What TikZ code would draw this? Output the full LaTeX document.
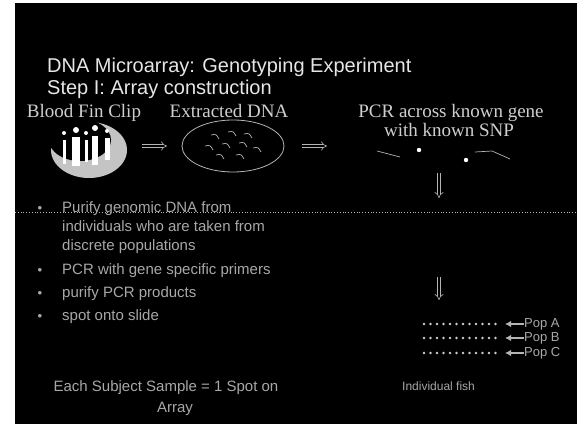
\documentclass[tikz,border=0pt]{standalone}
\usepackage{fontspec}
\setmainfont{Liberation Serif}
\setsansfont{Liberation Sans}
\usetikzlibrary{arrows.meta,shapes.geometric}

\definecolor{titlecol}{HTML}{E6E6E6}
\definecolor{labelcol}{HTML}{CFCFCF}
\definecolor{bodycol}{HTML}{A8A8A8}
\definecolor{linecol}{HTML}{B4B4B4}
\definecolor{icongray}{HTML}{C4C4C4}

\tikzset{
  heading/.style={anchor=base west, inner sep=0, text=titlecol,
    font=\sffamily\fontsize{20}{24}\selectfont},
  caption/.style={anchor=base, inner sep=0, text=labelcol,
    font=\rmfamily\fontsize{19}{22}\selectfont},
  bodytext/.style={anchor=base west, inner sep=0, text=bodycol,
    font=\sffamily\fontsize{15}{18}\selectfont},
  bulletmark/.style={anchor=base, inner sep=0, text=bodycol,
    font=\sffamily\fontsize{9}{10}\selectfont},
  poptext/.style={anchor=west, inner sep=0, text=bodycol,
    font=\sffamily\fontsize{13}{15}\selectfont},
  bigarrow/.style={draw=linecol, line width=0.6pt, double=black,
    double distance=2.6pt, -{Implies}},
  poparrow/.style={draw=linecol, line width=1.2pt,
    -{Latex[length=6pt,width=6.5pt]}},
  wiggle/.style={draw=linecol, line width=0.7pt},
}

\begin{document}
\begin{tikzpicture}[x=1pt,y=-1pt]
\useasboundingbox (0,0) rectangle (577,427);
\fill[white] (0,0) rectangle (577,427);
% slide background
\fill[black] (15,3) rectangle (577,424);

% headings
\node[heading] (title) at (47,73) {DNA Microarray: Genotyping Experiment};
\node[heading] (step) at (47,95) {Step I: Array construction};

% column captions
\node[caption] (blood) at (84,118) {Blood Fin Clip};
\node[caption] (extr) at (229,118) {Extracted DNA};
\node[caption] (pcr1) at (451,118) {PCR across known gene};
\node[caption] (pcr2) at (449,137) {with known SNP};

% fin clip icon: grey ring open to the upper left, with figures
\fill[icongray] (89,150) ellipse [x radius=38, y radius=28];
\fill[black] (80,140) ellipse [x radius=31, y radius=21];
\fill[white] (63,140) rectangle (66,164);
\fill[white] (72,137) rectangle (80,166);
\fill[white] (85,140) rectangle (88,162);
\fill[white] (92,136) rectangle (98,165);
\fill[white] (105,138) rectangle (110,160);
\foreach \hx/\hy/\hr in {64/133/2, 76/130/3, 86/133/2, 95/128/3, 107/131/2}
  \fill[white] (\hx,\hy) circle (\hr);
\node[inner sep=0, minimum width=76, minimum height=56] (icon) at (89,150) {};

% extracted DNA
\node[draw=linecol, line width=0.8pt, ellipse, inner sep=0,
      minimum width=102, minimum height=52] (dna) at (233,146) {};
\foreach \wx/\wy in {215/137, 232/134, 248/136, 209/148, 226/146,
                     243/145, 257/150, 220/157, 240/157}
  \draw[wiggle] (\wx-4,\wy-2) .. controls (\wx+1,\wy-3) .. (\wx+4,\wy+2);

% PCR product with SNP
\draw[wiggle] (377,151) -- (400,157);
\fill[white] (419,150) circle (2.2);
\fill[white] (466,160) circle (2.2);
\draw[wiggle] (475,152) -- (492,151) -- (510,159);

% flow arrows
\coordinate (a1s) at (142,146);
\coordinate (a1e) at (167,146);
\coordinate (a2s) at (302,146);
\coordinate (a2e) at (327,146);
\coordinate (a3s) at (439,173);
\coordinate (a3e) at (439,198);
\coordinate (a4s) at (439,277);
\coordinate (a4e) at (439,300);
\draw[bigarrow] (a1s) -- (a1e);
\draw[bigarrow] (a2s) -- (a2e);
\draw[bigarrow] (a3s) -- (a3e);
\draw[bigarrow] (a4s) -- (a4e);

% separator
\draw[linecol, dotted, line width=0.8pt] (15,212) -- (577,212);

% protocol list
\node[bulletmark] (m1) at (40,211) {$\bullet$};
\node[bodytext] (l1) at (62,213) {Purify genomic DNA from};
\node[bodytext] (l2) at (62,232) {individuals who are taken from};
\node[bodytext] (l3) at (62,251) {discrete populations};
\node[bulletmark] (m4) at (40,272) {$\bullet$};
\node[bodytext] (l4) at (62,274) {PCR with gene specific primers};
\node[bulletmark] (m5) at (40,295) {$\bullet$};
\node[bodytext] (l5) at (62,297) {purify PCR products};
\node[bulletmark] (m6) at (40,318) {$\bullet$};
\node[bodytext] (l6) at (62,320) {spot onto slide};

\node[bodytext, anchor=base] (each1) at (166,391) {Each Subject Sample = 1 Spot on};
\node[bodytext, anchor=base] (each2) at (175,412) {Array};

% spotted array
\foreach \py in {324,338,353}
  \foreach \i in {0,...,11}
    \fill[labelcol] (424+\i*6.5,\py) circle (1.3);
\node[poptext] (popA) at (524,324) {Pop A};
\node[poptext] (popB) at (524,338) {Pop B};
\node[poptext] (popC) at (524,353) {Pop C};
\coordinate (pa) at (505,324);
\coordinate (pb) at (505,338);
\coordinate (pc) at (505,353);
\draw[poparrow] (popA.west) -- (pa);
\draw[poparrow] (popB.west) -- (pb);
\draw[poparrow] (popC.west) -- (pc);
\node[poptext, font=\sffamily\fontsize{12}{14}\selectfont] (fish) at (402,386) {Individual fish};
\end{tikzpicture}
\end{document}
